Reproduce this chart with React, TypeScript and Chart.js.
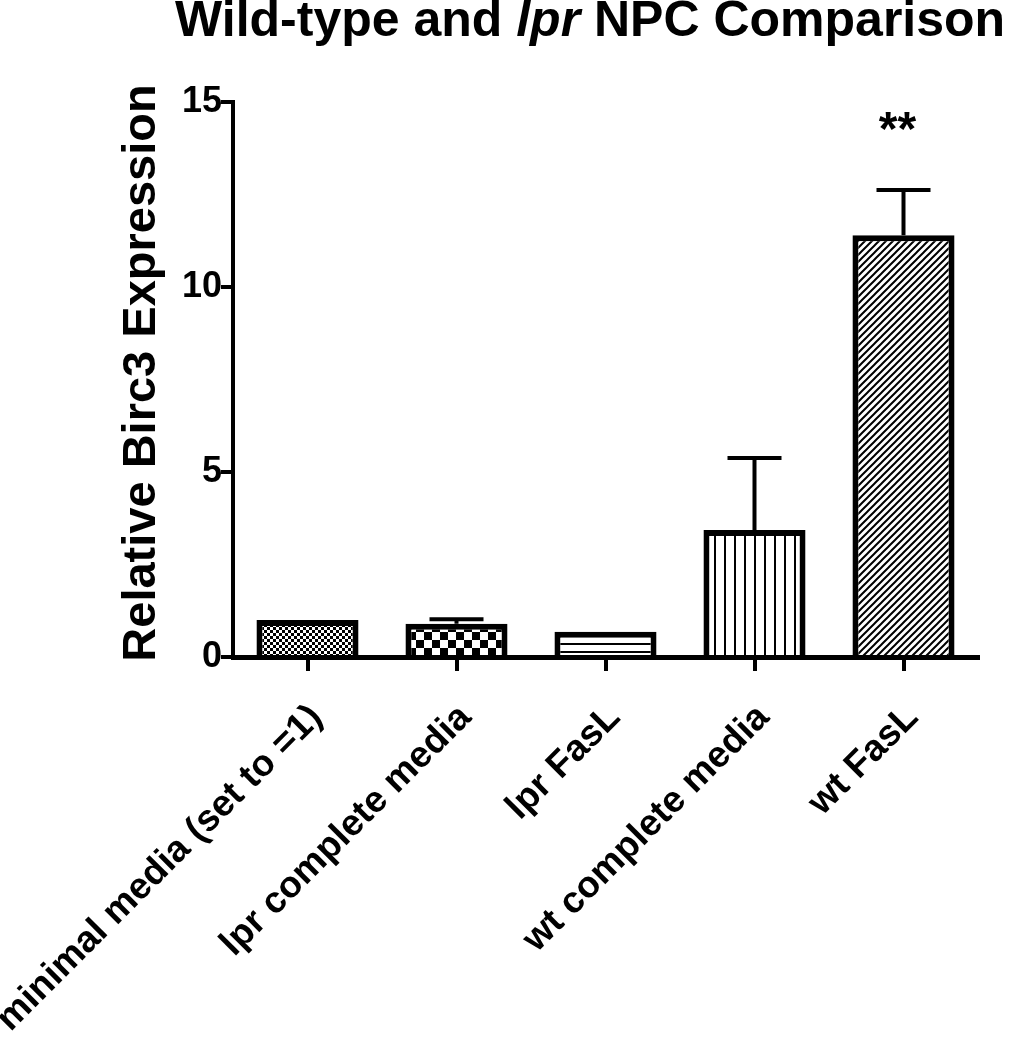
import React, { useEffect, useRef } from 'react';
import { Chart, registerables } from 'chart.js';

Chart.register(...registerables);

// ---- data ----
const categories = ['minimal media (set to =1)', 'lpr complete media', 'lpr FasL', 'wt complete media', 'wt FasL'];
const meanValues = [1.0, 0.9, 0.68, 3.43, 11.4];
const errorValues = [0, 0.12, 0, 1.95, 1.22];
const significance = ['', '', '', '', '**'];
const patternKinds = ['fineCheck', 'check', 'hlines', 'vlines', 'diag'];
const yMin = 0;
const yMax = 15;
const yStep = 5;
const titleParts = [
  { text: 'Wild-type and ', italic: false },
  { text: 'lpr', italic: true },
  { text: ' NPC Comparison', italic: false },
];
const yTitle = 'Relative Birc3 Expression';

const FONT = '"Liberation Sans", Arial, Helvetica, sans-serif';

function makePattern(ctxRef: CanvasRenderingContext2D, kind: string): CanvasPattern | string {
  const c = document.createElement('canvas');
  let s = 8;
  if (kind === 'fineCheck') s = 6;
  if (kind === 'check') s = 16;
  if (kind === 'hlines') s = 8;
  if (kind === 'vlines') s = 10;
  if (kind === 'diag') s = 7;
  c.width = s;
  c.height = s;
  const g = c.getContext('2d')!;
  g.fillStyle = '#fff';
  g.fillRect(0, 0, s, s);
  g.fillStyle = '#000';
  g.strokeStyle = '#000';
  if (kind === 'fineCheck') {
    g.fillRect(0, 0, 3, 3);
    g.fillRect(3, 3, 3, 3);
  } else if (kind === 'check') {
    g.fillRect(0, 0, 8, 8);
    g.fillRect(8, 8, 8, 8);
  } else if (kind === 'hlines') {
    g.fillRect(0, 3, s, 2);
  } else if (kind === 'vlines') {
    g.fillRect(4, 0, 2, s);
  } else if (kind === 'diag') {
    g.lineWidth = 2;
    g.beginPath();
    g.moveTo(-1, s + 1);
    g.lineTo(s + 1, -1);
    g.moveTo(-1, 1);
    g.lineTo(1, -1);
    g.moveTo(s - 1, s + 1);
    g.lineTo(s + 1, s - 1);
    g.stroke();
  }
  return ctxRef.createPattern(c, 'repeat') || '#888';
}

const customPlugin = {
  id: 'customDecor',
  afterDatasetsDraw(chart: any) {
    const ctx: CanvasRenderingContext2D = chart.ctx;
    const meta = chart.getDatasetMeta(0);
    const y = chart.scales.y;
    ctx.save();
    ctx.strokeStyle = '#000';
    ctx.fillStyle = '#000';
    ctx.lineWidth = 4;
    meta.data.forEach((bar: any, i: number) => {
      const v = meanValues[i];
      const err = errorValues[i];
      const top = y.getPixelForValue(v);
      const errTop = y.getPixelForValue(v + err);
      if (err > 0) {
        ctx.beginPath();
        ctx.moveTo(bar.x, top);
        ctx.lineTo(bar.x, errTop);
        ctx.moveTo(bar.x - 27, errTop);
        ctx.lineTo(bar.x + 27, errTop);
        ctx.stroke();
      }
      if (significance[i]) {
        ctx.font = `bold 48px ${FONT}`;
        ctx.textAlign = 'center';
        ctx.textBaseline = 'alphabetic';
        ctx.fillText(significance[i], bar.x - 6, errTop - 45);
      }
    });
    ctx.restore();
  },
  afterDraw(chart: any) {
    const ctx: CanvasRenderingContext2D = chart.ctx;
    ctx.save();
    ctx.fillStyle = '#000';
    ctx.textBaseline = 'alphabetic';
    ctx.textAlign = 'left';
    // chart title with italic part
    let x = 175;
    titleParts.forEach((p) => {
      ctx.font = `${p.italic ? 'italic ' : ''}bold 50px ${FONT}`;
      ctx.fillText(p.text, x, 36);
      x += ctx.measureText(p.text).width;
    });
    // y-axis title
    ctx.translate(155, 373);
    ctx.rotate(-Math.PI / 2);
    ctx.textAlign = 'center';
    ctx.font = `bold 47px ${FONT}`;
    ctx.fillText(yTitle, 0, 0);
    ctx.restore();
  },
};

export default function App() {
  const ref = useRef<HTMLCanvasElement | null>(null);
  useEffect(() => {
    document.body.style.margin = '0';
    document.body.style.overflow = 'hidden';
    const canvas = ref.current!;
    const ctx = canvas.getContext('2d')!;
    const patterns = patternKinds.map((k) => makePattern(ctx, k));
    const chart = new Chart(canvas, {
      type: 'bar',
      data: {
        labels: categories,
        datasets: [
          {
            data: meanValues,
            backgroundColor: patterns as any,
            borderColor: '#000',
            borderWidth: 6,
            borderSkipped: 'start',
            categoryPercentage: 1,
            barPercentage: 0.685,
          },
        ],
      },
      options: {
        responsive: false,
        animation: false,
        devicePixelRatio: 1,
        layout: { padding: { top: 102, right: 32, left: 0, bottom: 0 } },
        plugins: {
          legend: { display: false },
          tooltip: { enabled: false },
          title: { display: false },
        },
        scales: {
          x: {
            z: 1,
            offset: true,
            grid: {
              display: true,
              drawOnChartArea: false,
              drawTicks: true,
              tickLength: 14,
              tickWidth: 4,
              lineWidth: 4,
              color: '#000',
              offset: false,
            },
            border: { display: true, color: '#000', width: 5 },
            ticks: {
              color: '#000',
              font: { family: FONT, size: 37, weight: 'bold' },
              minRotation: 45,
              maxRotation: 45,
              autoSkip: false,
              padding: 25,
              labelOffset: 9,
            },
            afterFit: (scale: any) => {
              scale.height = 1050 - 657;
              scale.paddingLeft = 0;
              scale.paddingRight = 0;
            },
          },
          y: {
            min: yMin,
            max: yMax,
            grid: {
              display: true,
              drawOnChartArea: false,
              drawTicks: true,
              tickLength: 12,
              tickWidth: 4,
              lineWidth: 4,
              color: '#000',
            },
            border: { display: true, color: '#000', width: 4 },
            ticks: {
              stepSize: yStep,
              color: '#000',
              font: { family: FONT, size: 36, weight: 'bold' },
              padding: -1,
            },
            afterFit: (scale: any) => {
              scale.width = 233;
              scale.paddingTop = 0;
              scale.paddingBottom = 0;
            },
          },
        },
      },
      plugins: [customPlugin],
    } as any);
    return () => chart.destroy();
  }, []);
  return (
    <div style={{ width: 1010, height: 1050, position: 'relative', background: '#fff' }}>
      <canvas ref={ref} width={1010} height={1050} style={{ display: 'block' }} />
    </div>
  );
}
